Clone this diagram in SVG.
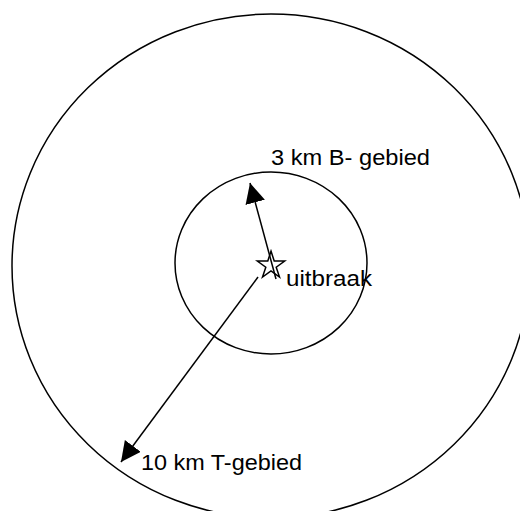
<svg xmlns="http://www.w3.org/2000/svg" width="520" height="511" viewBox="0 0 520 511">
<style>
.c{fill:none;stroke:#000;stroke-width:1.5}
.l{fill:none;stroke:#000;stroke-width:1.5}
.t{font-family:"Liberation Sans",Arial,sans-serif;font-size:22px;fill:#000}
</style>
<defs>
<marker id="ah" viewBox="0 0 20 20" refX="20" refY="10" markerWidth="20" markerHeight="20" markerUnits="userSpaceOnUse" orient="auto">
<path d="M0,0 L20,10 L0,20 z" fill="#000"/>
</marker>
</defs>
<rect width="520" height="511" fill="#fff"/>
<g id="outer"><ellipse class="c" cx="271" cy="266" rx="259" ry="252"/><text class="t" x="141" y="470" textLength="161" lengthAdjust="spacingAndGlyphs">10 km T-gebied</text></g>
<g id="inner"><ellipse class="c" cx="271" cy="263" rx="96" ry="91"/><text class="t" x="271" y="165" textLength="159" lengthAdjust="spacingAndGlyphs">3 km B- gebied</text></g>
<g id="outbreak"><polygon class="l" points="271,251.1 274.2,261 284.7,261 276.2,267.2 279.5,277.1 271,271 262.5,277.1 265.8,267.2 257.3,261 267.8,261"/><text class="t" x="286" y="286" textLength="86" lengthAdjust="spacingAndGlyphs">uitbraak</text></g>
<g id="connectors">
<line class="l" x1="276" y1="279" x2="250" y2="183" marker-end="url(#ah)"/>
<line class="l" x1="258" y1="277" x2="121" y2="462" marker-end="url(#ah)"/>
</g>
</svg>
